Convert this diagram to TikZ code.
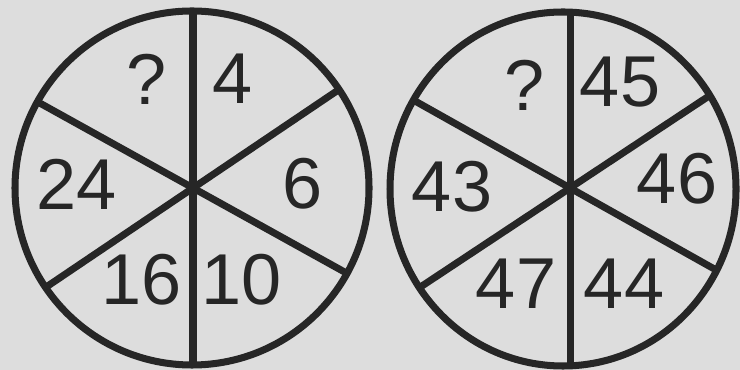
\documentclass[tikz,border=0pt]{standalone}
\usepackage{fontspec}
\setmainfont{Liberation Sans}
\usetikzlibrary{calc}
\definecolor{paper}{RGB}{221,221,221}
\definecolor{ink}{RGB}{38,38,38}

\begin{document}
\begin{tikzpicture}[
    rim/.style={draw=ink, line width=2pt},
    spoke/.style={draw=ink, line width=2pt},
    num/.style={inner sep=0pt, text=ink, font=\fontsize{20.5}{24}\selectfont}
]

% Fondo
\fill[paper] (0,0) rectangle (7.4,3.7);
\useasboundingbox (0,0) rectangle (7.4,3.7);

% Centros
\coordinate (lhub) at (1.93,1.82);
\coordinate (lmid) at (1.92,1.82);
\coordinate (rhub) at (5.70,1.82);
\coordinate (rmid) at (5.63,1.81);

% Rueda izquierda
\begin{scope}
    \clip (lmid) circle (1.77);
    \draw[spoke] ($(lhub)+(90:3)$) -- ($(lhub)+(270:3)$);
    \draw[spoke] ($(lhub)+(151:3)$) -- ($(lhub)+(331:3)$);
    \draw[spoke] ($(lhub)+(34:3)$) -- ($(lhub)+(214:3)$);
\end{scope}
\draw[rim] (lmid) circle (1.77);

% Rueda derecha
\begin{scope}
    \clip (rmid) ellipse (1.73 and 1.77);
    \draw[spoke] ($(rhub)+(90:3)$) -- ($(rhub)+(270:3)$);
    \draw[spoke] ($(rhub)+(150.7:3)$) -- ($(rhub)+(330.7:3)$);
    \draw[spoke] ($(rhub)+(33.5:3)$) -- ($(rhub)+(213.5:3)$);
\end{scope}
\draw[rim] (rmid) ellipse (1.73 and 1.77);

% Numeros
\foreach \x/\y/\t/\n in {1.47/2.91/?/lq, 2.33/2.91/4/la, 0.77/1.86/24/lb,
                          3.03/1.86/6/lc, 1.42/0.90/16/ld, 2.42/0.90/10/le} {
    \node[num] (\n) at (\x,\y) {\t};
}
\foreach \x/\y/\t/\n in {5.25/2.85/?/rq, 6.20/2.88/45/ra, 4.52/1.83/43/rb,
                          6.77/1.91/46/rc, 5.16/0.86/47/rd, 6.24/0.86/44/re} {
    \node[num] (\n) at (\x,\y) {\t};
}

\end{tikzpicture}
\end{document}
